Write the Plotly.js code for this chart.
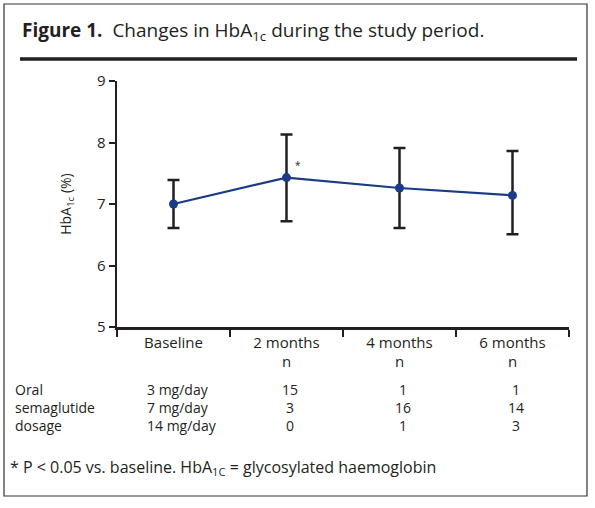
<!DOCTYPE html>
<html>
<head>
<meta charset="utf-8">
<script src="https://cdn.plot.ly/plotly-3.0.1.min.js"></script>
<style>
  html, body { margin: 0; padding: 0; background: #fff; }
  #chart { width: 595px; height: 508px; }
</style>
</head>
<body>
<div id="chart"></div>
<script>
var categories = ['Baseline', '2 months', '4 months', '6 months'];
var tickLabels = ['Baseline', '2 months<br>n', '4 months<br>n', '6 months<br>n'];
var hba1cMean = [7.0, 7.43, 7.26, 7.14];
var errUpper = [0.39, 0.70, 0.65, 0.72];
var errLower = [0.39, 0.71, 0.65, 0.63];
var dosageLabels = ['Oral', 'semaglutide', 'dosage'];
var doseRows = ['3 mg/day', '7 mg/day', '14 mg/day'];
var nByDose = [
  [15, 1, 1],
  [3, 16, 14],
  [0, 1, 3]
];
var sigIndex = [1];

var font = '"Open Sans", "Noto Sans", sans-serif';
var ink = '#231f20';

// pixel -> paper helpers (plot area 117..569 x 81..327)
function px(x) { return (x - 117) / 452; }
function py(y) { return (327 - y) / 246; }

var trace = {
  x: categories,
  y: hba1cMean,
  type: 'scatter',
  mode: 'lines+markers',
  line: { color: '#1b3a87', width: 2.2 },
  marker: { color: '#1b3a87', size: 9 },
  error_y: {
    type: 'data',
    symmetric: false,
    array: errUpper,
    arrayminus: errLower,
    color: ink,
    thickness: 2.5,
    width: 6
  },
  hoverinfo: 'skip'
};

var annotations = [];

annotations.push({
  xref: 'paper', yref: 'paper', x: px(20), y: py(31),
  xanchor: 'left', yanchor: 'middle', showarrow: false,
  text: '<b>Figure 1.</b>  Changes in HbA<sub>1c</sub> during the study period.',
  font: { family: font, size: 19, color: ink }
});

sigIndex.forEach(function (i) {
  annotations.push({
    xref: 'x', yref: 'y', x: categories[i], y: hba1cMean[i],
    xshift: 11, yshift: 13, showarrow: false, text: '*',
    font: { family: font, size: 10, color: ink }
  });
});

var rowY = [389, 407, 425];
dosageLabels.forEach(function (lbl, r) {
  annotations.push({
    xref: 'paper', yref: 'paper', x: px(13), y: py(rowY[r]),
    xanchor: 'left', yanchor: 'middle', showarrow: false, text: lbl,
    font: { family: font, size: 14, color: ink }
  });
  annotations.push({
    xref: 'x', yref: 'paper', x: categories[0], y: py(rowY[r]),
    xanchor: 'left', yanchor: 'middle', xshift: -29, showarrow: false, text: doseRows[r],
    font: { family: font, size: 14, color: ink }
  });
  nByDose[r].forEach(function (n, c) {
    annotations.push({
      xref: 'x', yref: 'paper', x: categories[c + 1], y: py(rowY[r]),
      xanchor: 'center', yanchor: 'middle', xshift: 3, showarrow: false, text: String(n),
      font: { family: font, size: 14, color: ink }
    });
  });
});

annotations.push({
  xref: 'paper', yref: 'paper', x: px(8), y: py(467),
  xanchor: 'left', yanchor: 'middle', showarrow: false,
  text: '* P &lt; 0.05 vs. baseline. HbA<sub>1C</sub> = glycosylated haemoglobin',
  font: { family: font, size: 16, color: ink }
});

var layout = {
  width: 595,
  height: 508,
  margin: { l: 117, r: 26, t: 81, b: 181, pad: 0 },
  paper_bgcolor: '#fff',
  plot_bgcolor: '#fff',
  showlegend: false,
  font: { family: font, color: ink },
  xaxis: {
    type: 'category',
    range: [-0.5, 3.5],
    tickmode: 'array',
    tickvals: categories,
    ticktext: tickLabels,
    tickson: 'boundaries',
    ticks: 'outside',
    ticklen: 7,
    tickwidth: 2,
    tickcolor: ink,
    showline: true,
    linecolor: ink,
    linewidth: 2.5,
    showgrid: false,
    zeroline: false,
    tickfont: { family: font, size: 15, color: ink }
  },
  yaxis: {
    range: [5, 9],
    tickvals: [5, 6, 7, 8, 9],
    ticks: 'outside',
    ticklen: 6,
    tickwidth: 2,
    tickcolor: ink,
    showline: true,
    linecolor: ink,
    linewidth: 2.5,
    showgrid: false,
    zeroline: false,
    tickfont: { family: font, size: 15, color: ink },
    title: {
      text: 'HbA<sub>1c</sub> (%)',
      standoff: 22,
      font: { family: font, size: 14, color: ink }
    }
  },
  shapes: [
    {
      type: 'rect', xref: 'paper', yref: 'paper',
      x0: px(4), x1: px(587), y0: py(496), y1: py(4),
      line: { color: '#333', width: 1.2 }
    },
    {
      type: 'line', xref: 'paper', yref: 'paper',
      x0: px(20), x1: px(577), y0: py(59), y1: py(59),
      line: { color: ink, width: 3.5 }
    }
  ],
  annotations: annotations
};

Plotly.newPlot('chart', [trace], layout, { displayModeBar: false, staticPlot: true });
</script>
</body>
</html>
